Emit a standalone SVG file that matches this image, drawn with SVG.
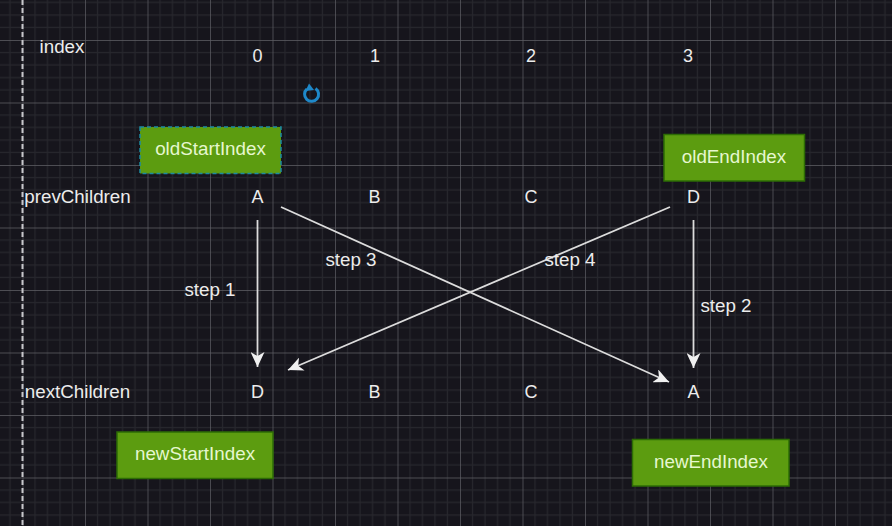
<svg xmlns="http://www.w3.org/2000/svg" width="892" height="526" viewBox="0 0 892 526">
<style>
text{font-family:"Liberation Sans",Arial,sans-serif;font-size:18.800px;fill:#ececec;text-anchor:middle}
.l{font-size:18px}
.n{fill:#5c9c10;stroke:#2d6c04;stroke-width:1.500}
.nt{fill:#e6f7cf}
.c{stroke:#dcdcdc;stroke-width:1.800;fill:none;marker-end:url(#a)}
</style>
<defs>
<pattern id="g" width="62.500" height="62.500" patternUnits="userSpaceOnUse" x="22.500" y="40">
<path d="M12.500 0V62.500M25 0V62.500M37.500 0V62.500M50 0V62.500M0 12.500H62.500M0 25H62.500M0 37.500H62.500M0 50H62.500" stroke="#27272d" stroke-width="1.200" fill="none"/>
<path d="M0 0V62.500M0 0H62.500" stroke="#5f5f65" stroke-width="1.400" fill="none"/>
</pattern>
<marker id="a" viewBox="0 0 16 14" markerWidth="16" markerHeight="14" markerUnits="userSpaceOnUse" refX="15" refY="7" orient="auto">
<path d="M0 0L15 7L0 14L4 7Z" fill="#f0f0f0"/>
</marker>
</defs>
<rect width="892" height="526" fill="#16151c"/>
<rect width="892" height="526" fill="url(#g)"/>
<path d="M22.500 0V526" stroke="#c8c8cc" stroke-width="2" stroke-dasharray="5 3" fill="none"/>
<g id="connectors">
<path class="c" d="M257.500 220V367"/>
<path class="c" d="M693.500 220V368"/>
<path class="c" d="M281 207L669 382"/>
<path class="c" d="M670 207L288 370"/>
</g>
<g id="icon"><path d="M315.500 88.500A7 7 0 1 1 307 89" fill="none" stroke="#1e88c9" stroke-width="3"/><path d="M309 83.500L314 90L305.500 91Z" fill="#1e88c9"/></g>
<g id="oldStartIndex"><rect x="140" y="127" width="141" height="46.500" class="n" style="stroke:#1c8aa0;stroke-dasharray:4 3"/><text class="nt" x="210.500" y="155">oldStartIndex</text></g>
<g id="oldEndIndex"><rect x="664" y="134.500" width="140.500" height="46.500" class="n"/><text class="nt" x="734" y="163">oldEndIndex</text></g>
<g id="newStartIndex"><rect x="117" y="432" width="156" height="46.500" class="n"/><text class="nt" x="195" y="460">newStartIndex</text></g>
<g id="newEndIndex"><rect x="632.500" y="439.500" width="156.500" height="46.500" class="n"/><text class="nt" x="711" y="468">newEndIndex</text></g>
<g id="labels">
<text x="62" y="53">index</text>
<text class="l" x="257.500" y="61.500">0</text><text class="l" x="375" y="61.500">1</text><text class="l" x="531" y="61.500">2</text><text class="l" x="688" y="61.500">3</text>
<text x="77.500" y="202.500">prevChildren</text>
<text class="l" x="257.500" y="202.500">A</text><text class="l" x="374.500" y="202.500">B</text><text class="l" x="531" y="202.500">C</text><text class="l" x="693.500" y="202.500">D</text>
<text x="77.500" y="397.500">nextChildren</text>
<text class="l" x="257.500" y="397.500">D</text><text class="l" x="374.500" y="397.500">B</text><text class="l" x="531" y="397.500">C</text><text class="l" x="693.500" y="397.500">A</text>
<text x="210" y="295.500">step 1</text><text x="726" y="311.500">step 2</text><text x="351" y="265.500">step 3</text><text x="570" y="265.500">step 4</text>
</g>
</svg>
